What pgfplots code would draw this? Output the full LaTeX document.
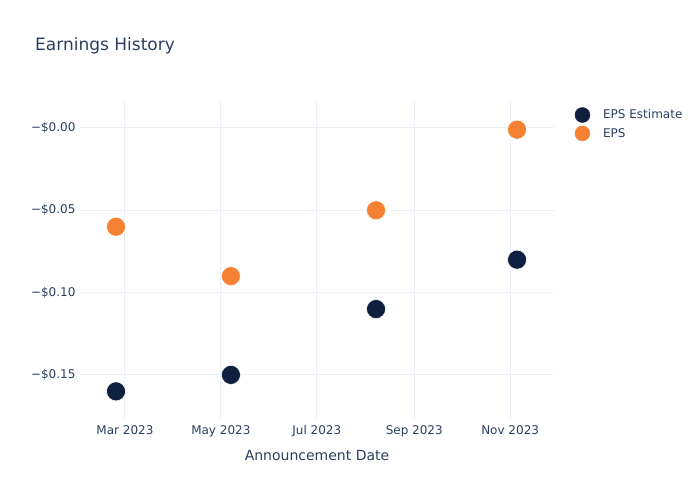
\documentclass[border=0pt]{standalone}
\usepackage{fontspec}
\setmainfont{DejaVu Sans}
\usepackage{pgfplots}
\pgfplotsset{compat=1.18}
\definecolor{txt}{HTML}{2A3F5F}
\definecolor{gridc}{HTML}{EBF0F8}
\definecolor{navy}{HTML}{0E1F3F}
\definecolor{orng}{HTML}{F58233}
\begin{document}
\begin{tikzpicture}[x=1pt,y=1pt]
\path (0,0) rectangle (700,500);
\node[anchor=west,text=txt,font=\fontsize{17}{20}\selectfont,inner sep=0pt] at (35,454) {Earnings History};
\begin{axis}[
  at={(80pt,80pt)}, anchor=south west,
  scale only axis, width=474pt, height=320pt,
  xmin=-28.6, xmax=272.9, ymin=-0.1774, ymax=0.017,
  axis line style={draw=none},
  tick style={draw=none},
  grid=major,
  major grid style={gridc, line width=1pt},
  xtick={0,61,122,184,245},
  xticklabels={Mar 2023,May 2023,Jul 2023,Sep 2023,Nov 2023},
  ytick={-0.15,-0.1,-0.05,0},
  yticklabels={−\$0.15,−\$0.10,−\$0.05,−\$0.00},
  tick label style={text=txt,font=\fontsize{12}{14}\selectfont},
  xticklabel style={yshift=-2pt},
  yticklabel style={xshift=-1pt},
  xlabel={Announcement Date},
  xlabel style={text=txt,font=\fontsize{14}{16}\selectfont, yshift=-6pt},
  legend style={at={(1.037,0.984)}, anchor=north west, draw=none, fill=none,
    font=\fontsize{12}{14}\selectfont, text=txt, row sep=3pt,
    legend cell align=left},
  legend image code/.code={\fill (6pt,0) circle (7.5pt); \path (24.5pt,0);},
  clip=false,
]
\addplot[only marks, mark=*, mark size=9.5pt, navy, mark options={fill=navy, draw=white, line width=0.5pt}]
  coordinates {(-5.7,-0.16) (67.4,-0.15) (159.7,-0.11) (249.4,-0.08)};
\addlegendentry{EPS Estimate}
\addplot[only marks, mark=*, mark size=9.5pt, orng, mark options={fill=orng, draw=white, line width=0.5pt}]
  coordinates {(-5.7,-0.06) (67.4,-0.09) (159.7,-0.05) (249.4,-0.001)};
\addlegendentry{EPS}
\end{axis}
\end{tikzpicture}
\end{document}
